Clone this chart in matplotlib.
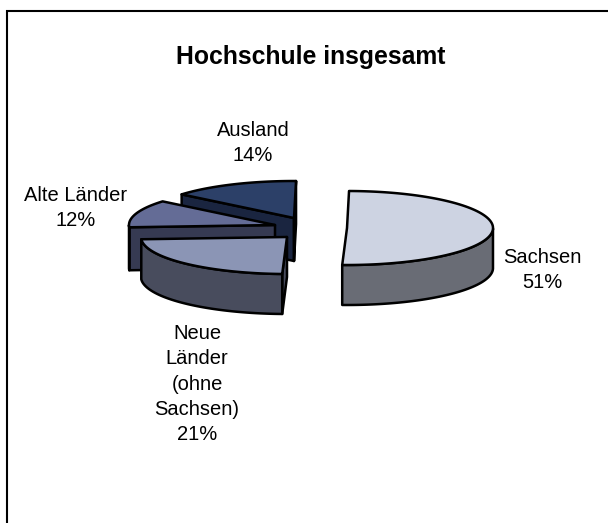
import matplotlib
matplotlib.use('Agg')
import matplotlib.pyplot as plt
import numpy as np
from matplotlib.patches import Polygon

plt.rcParams['font.family'] = ['Liberation Sans', 'DejaVu Sans']

# Data (clockwise from the top), printed labels differ a bit from the drawn shares
regions = ['Sachsen', 'Neue\nLänder\n(ohne\nSachsen)', 'Alte Länder', 'Ausland']
label_pct = [51, 21, 12, 14]
shares = [50.3, 23.5, 12.0, 14.2]

top_colors = ['#CDD3E2', '#8B95B5', '#646C96', '#2C4068']
side_colors = ['#696C75', '#484C5D', '#363A52', '#1A2540']

# Layout in pixels
rx, ry = 146, 37
depths = [40, 40, 43, 43]
start_angle = 89.2
centres = [(347, 228), (287, 237), (275, 225), (294, 218)]
label_pos = [(542, 270), (197, 384), (76, 208), (253, 143)]

fig = plt.figure(figsize=(6.08, 5.23), dpi=100)
ax = fig.add_axes([0, 0, 1, 1])
ax.set_xlim(0, 608)
ax.set_ylim(523, 0)
ax.axis('off')

# frame: only left and top are inside the picture
ax.plot([7, 7, 608], [523, 10.5, 10.5], color='black', lw=1.5, solid_joinstyle='miter')


def ell(cx, cy, t):
    t = np.radians(t)
    return np.column_stack([cx + rx * np.cos(t), cy - ry * np.sin(t)])


def draw_slice(cx, cy, t0, t1, depth, top, side):
    # t0 > t1, going clockwise
    apex = np.array([cx, cy])
    down = np.array([0, depth])
    # cut faces, only those turned to the viewer
    for t, normal in ((t0, t0 + 90), (t1, t1 - 90)):
        if np.sin(np.radians(normal)) < 0:
            edge = ell(cx, cy, t)[0]
            ax.add_patch(Polygon([apex, edge, edge + down, apex + down], fc=side, ec='black', lw=1.8, joinstyle='round'))
    # outer wall, only the lower half of the ellipse shows
    ts = np.linspace(t0, t1, 200)
    ts = ts[np.sin(np.radians(ts)) < 0]
    if len(ts) > 1:
        arc = ell(cx, cy, ts)
        ax.add_patch(Polygon(np.vstack([arc, (arc + down)[::-1]]), fc=side, ec='black', lw=1.8, joinstyle='round'))
    ax.add_patch(Polygon(np.vstack([apex, ell(cx, cy, np.linspace(t0, t1, 200))]), fc=top, ec='black', lw=1.8, joinstyle='round'))


angles = start_angle - np.cumsum([0] + shares) * 3.6
# back slices first
for i in [3, 2, 1, 0]:
    draw_slice(centres[i][0], centres[i][1], angles[i], angles[i + 1], depths[i], top_colors[i], side_colors[i])

for name, pct, (x, y) in zip(regions, label_pct, label_pos):
    ax.text(x, y, f'{name}\n{pct}%', ha='center', va='center', fontsize=14.5, linespacing=1.42, color='black')

ax.text(311, 57, 'Hochschule insgesamt', ha='center', va='center', fontsize=17.8, fontweight='bold')

fig.savefig('out.png', dpi=100)
